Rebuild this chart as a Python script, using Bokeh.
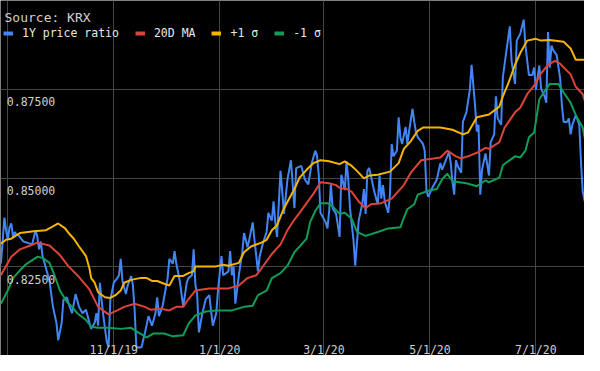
import pandas as pd
from bokeh.plotting import figure
from bokeh.models import FixedTicker, Label, Legend, LegendItem
from bokeh.core.properties import value
from bokeh.embed import file_html
from bokeh.resources import INLINE

# ---------------- data ----------------
BASE = "2019-08-28"
X_START = "2019-08-27 19:00"
X_END = "2020-07-29 00:00"

series_names = ["1Y price ratio", "20D MA", "+1 \u03c3", "-1 \u03c3"]
series_colors = ["#4285F4", "#DB4437", "#F4B400", "#0F9D58"]

# 1Y price ratio (days after BASE, value)
price_day = [0, 1, 2, 3, 4, 5, 6, 7, 8, 9, 10, 13, 15, 18, 20, 21, 22, 23, 24, 26,
             28, 30, 32, 33, 35, 36, 38, 39, 41, 43, 45, 47, 49, 51, 52, 54, 55, 56, 57, 58,
             59, 61, 62, 63, 65, 67, 68, 69, 70, 71, 72, 73, 75, 76, 77, 78, 80, 81, 83, 85,
             87, 89, 90, 91, 93, 94, 96, 97, 99, 100, 101, 103, 105, 107, 108, 110, 111, 112, 113, 114,
             116, 118, 120, 122, 124, 125, 127, 128, 131, 132, 133, 134, 135, 137, 139, 140, 142, 143, 145, 146,
             148, 149, 151, 153, 154, 156, 157, 158, 159, 161, 162, 163, 165, 167, 169, 170, 173, 175, 177, 179,
             181, 182, 183, 184, 187, 188, 189, 190, 191, 193, 195, 196, 198, 199, 200, 201, 203, 204, 206, 208,
             209, 210, 211, 212, 213, 215, 217, 218, 219, 220, 221, 223, 224, 225, 226, 228, 229, 230, 231, 233,
             234, 235, 237, 238, 239, 240, 243, 244, 245, 246, 248, 251, 253, 254, 257, 258, 259, 260, 261, 262,
             263, 265, 266, 268, 270, 271, 273, 274, 275, 276, 277, 279, 281, 282, 284, 285, 286, 288, 289, 291,
             293, 294, 296, 297, 299, 301, 302, 304, 306, 307, 308, 310, 311, 313, 314, 315, 316, 317, 318, 320,
             322, 323, 324, 326, 327, 328, 329, 331, 333, 334, 335, 337]
price_val = [0.8259, 0.8318, 0.8388, 0.8353, 0.8326, 0.8361, 0.8372, 0.8334, 0.8348, 0.8340,
             0.8340, 0.8321, 0.8318, 0.8313, 0.8353, 0.8334, 0.8299, 0.8321, 0.8280, 0.8245,
             0.8210, 0.8137, 0.8092, 0.8043, 0.8092, 0.8156, 0.8164, 0.8146, 0.8119, 0.8173,
             0.8137, 0.8119, 0.8129, 0.8092, 0.8075, 0.8092, 0.8119, 0.8084, 0.8205, 0.8156,
             0.8111, 0.8038, 0.8024, 0.8156, 0.8205, 0.8218, 0.8226, 0.8272, 0.8210, 0.8191,
             0.8173, 0.8197, 0.8224, 0.8199, 0.8129, 0.8024, 0.8022, 0.8024, 0.8065, 0.8111,
             0.8084, 0.8119, 0.8164, 0.8111, 0.8137, 0.8164, 0.8218, 0.8272, 0.8259, 0.8294,
             0.8259, 0.8210, 0.8137, 0.8205, 0.8218, 0.8226, 0.8299, 0.8199, 0.8173, 0.8065,
             0.8119, 0.8159, 0.8170, 0.8084, 0.8119, 0.8183, 0.8280, 0.8226, 0.8237, 0.8294,
             0.8226, 0.8251, 0.8146, 0.8226, 0.8291, 0.8345, 0.8305, 0.8326, 0.8375, 0.8326,
             0.8237, 0.8280, 0.8318, 0.8348, 0.8402, 0.8380, 0.8434, 0.8375, 0.8334, 0.8520,
             0.8461, 0.8399, 0.8496, 0.8550, 0.8415, 0.8528, 0.8534, 0.8496, 0.8482, 0.8542,
             0.8577, 0.8563, 0.8509, 0.8402, 0.8375, 0.8358, 0.8407, 0.8482, 0.8415, 0.8399,
             0.8334, 0.8509, 0.8466, 0.8547, 0.8496, 0.8415, 0.8326, 0.8253, 0.8380, 0.8426,
             0.8469, 0.8399, 0.8520, 0.8528, 0.8507, 0.8461, 0.8426, 0.8507, 0.8442, 0.8480,
             0.8434, 0.8402, 0.8453, 0.8596, 0.8561, 0.8577, 0.8671, 0.8615, 0.8596, 0.8644,
             0.8596, 0.8631, 0.8695, 0.8658, 0.8628, 0.8615, 0.8596, 0.8577, 0.8466, 0.8447,
             0.8469, 0.8496, 0.8542, 0.8523, 0.8561, 0.8574, 0.8542, 0.8488, 0.8453, 0.8550,
             0.8534, 0.8515, 0.8658, 0.8685, 0.8749, 0.8819, 0.8704, 0.8631, 0.8650, 0.8453,
             0.8523, 0.8569, 0.8507, 0.8601, 0.8623, 0.8730, 0.8668, 0.8650, 0.8784, 0.8857,
             0.8927, 0.8830, 0.8765, 0.8887, 0.8906, 0.8946, 0.8873, 0.8790, 0.8790, 0.8811,
             0.8749, 0.8817, 0.8752, 0.8730, 0.8712, 0.8911, 0.8811, 0.8873, 0.8860, 0.8846,
             0.8779, 0.8704, 0.8658, 0.8658, 0.8668, 0.8623, 0.8650, 0.8677, 0.8650, 0.8542,
             0.8461, 0.8415]

# 20D MA
ma_day = [0, 6, 11, 17, 21, 28, 34, 39, 45, 51, 56, 62, 67, 71, 77, 83, 86, 92, 97, 101,
          105, 108, 112, 120, 131, 137, 142, 147, 150, 156, 161, 165, 169, 172, 176, 180, 184, 189, 193, 196,
          198, 202, 206, 210, 213, 219, 225, 232, 236, 242, 249, 253, 257, 262, 265, 270, 274, 279, 281, 287,
          290, 296, 299, 303, 307, 311, 315, 319, 322, 328, 331, 335, 337]
ma_val = [0.8226, 0.8278, 0.8299, 0.8310, 0.8318, 0.8310, 0.8283, 0.8251, 0.8221, 0.8186,
          0.8137, 0.8116, 0.8127, 0.8137, 0.8146, 0.8137, 0.8129, 0.8132, 0.8127, 0.8137,
          0.8137, 0.8159, 0.8183, 0.8189, 0.8189, 0.8197, 0.8218, 0.8226, 0.8245, 0.8286,
          0.8313, 0.8353, 0.8383, 0.8402, 0.8429, 0.8456, 0.8488, 0.8485, 0.8480, 0.8469,
          0.8472, 0.8461, 0.8434, 0.8415, 0.8426, 0.8429, 0.8442, 0.8480, 0.8515, 0.8550,
          0.8555, 0.8558, 0.8577, 0.8561, 0.8555, 0.8563, 0.8571, 0.8585, 0.8582, 0.8601,
          0.8642, 0.8685, 0.8698, 0.8736, 0.8760, 0.8795, 0.8819, 0.8830, 0.8822, 0.8792,
          0.8757, 0.8736, 0.8704]

# +1 sigma
up_day = [0, 3, 6, 10, 11, 19, 26, 30, 33, 37, 39, 42, 45, 49, 51, 52, 54, 56, 60, 63,
          66, 69, 71, 75, 80, 84, 87, 90, 94, 97, 100, 105, 108, 111, 112, 118, 124, 128, 131, 137,
          140, 144, 150, 153, 156, 159, 163, 169, 172, 176, 180, 184, 189, 195, 198, 202, 205, 209, 212, 217,
          224, 229, 232, 236, 240, 243, 253, 260, 266, 269, 274, 281, 287, 289, 292, 296, 299, 303, 308, 311,
          316, 324, 328, 331, 337]
up_val = [0.8315, 0.8326, 0.8329, 0.8342, 0.8345, 0.8350, 0.8353, 0.8364, 0.8372, 0.8358,
          0.8345, 0.8329, 0.8307, 0.8280, 0.8245, 0.8218, 0.8205, 0.8178, 0.8164, 0.8162,
          0.8170, 0.8183, 0.8205, 0.8213, 0.8218, 0.8218, 0.8210, 0.8210, 0.8202, 0.8197,
          0.8224, 0.8224, 0.8232, 0.8237, 0.8251, 0.8251, 0.8251, 0.8256, 0.8253, 0.8261,
          0.8291, 0.8307, 0.8318, 0.8326, 0.8353, 0.8367, 0.8415, 0.8469, 0.8501, 0.8523,
          0.8542, 0.8550, 0.8547, 0.8539, 0.8547, 0.8534, 0.8520, 0.8499, 0.8507, 0.8509,
          0.8518, 0.8542, 0.8582, 0.8604, 0.8633, 0.8642, 0.8642, 0.8636, 0.8623, 0.8628,
          0.8671, 0.8679, 0.8701, 0.8730, 0.8765, 0.8819, 0.8852, 0.8887, 0.8892, 0.8887,
          0.8889, 0.8884, 0.8865, 0.8833, 0.8833]

# -1 sigma
dn_day = [0, 4, 7, 11, 15, 21, 24, 28, 31, 34, 38, 41, 44, 49, 52, 56, 62, 69, 75, 79,
          84, 88, 94, 99, 105, 108, 112, 118, 124, 133, 140, 145, 148, 153, 156, 161, 165, 169, 172, 176,
          178, 181, 184, 188, 191, 195, 198, 202, 205, 210, 217, 223, 230, 232, 234, 238, 240, 246, 251, 254,
          257, 260, 268, 274, 279, 281, 287, 289, 292, 296, 299, 302, 304, 307, 310, 313, 316, 321, 324, 328,
          331, 335, 337]
dn_val = [0.8146, 0.8183, 0.8218, 0.8240, 0.8259, 0.8278, 0.8275, 0.8261, 0.8224, 0.8183,
          0.8151, 0.8137, 0.8119, 0.8100, 0.8081, 0.8078, 0.8078, 0.8075, 0.8078, 0.8065,
          0.8051, 0.8062, 0.8062, 0.8054, 0.8057, 0.8089, 0.8113, 0.8124, 0.8127, 0.8127,
          0.8137, 0.8140, 0.8170, 0.8183, 0.8218, 0.8232, 0.8253, 0.8291, 0.8307, 0.8329,
          0.8375, 0.8407, 0.8429, 0.8429, 0.8420, 0.8399, 0.8402, 0.8385, 0.8348, 0.8337,
          0.8348, 0.8358, 0.8361, 0.8388, 0.8412, 0.8426, 0.8453, 0.8464, 0.8469, 0.8496,
          0.8512, 0.8491, 0.8485, 0.8477, 0.8493, 0.8488, 0.8501, 0.8536, 0.8547, 0.8561,
          0.8558, 0.8577, 0.8615, 0.8628, 0.8722, 0.8744, 0.8765, 0.8765, 0.8741, 0.8712,
          0.8677, 0.8642, 0.8590]

y_ticks = [0.825, 0.85, 0.875]
y_grid = [0.825, 0.85, 0.875, 0.9]
x_ticks = ["2019-11-01", "2020-01-01", "2020-03-01", "2020-05-01", "2020-07-01"]
x_grid = ["2019-09-01"] + x_ticks
source_text = "Source: KRX"

# ---------------- styling ----------------
FONT = "DejaVu Sans Mono"
W, H = 584, 355
BG = "#000000"
GRID = "#454545"


def to_dates(days):
    return pd.Timestamp(BASE) + pd.to_timedelta(days, unit="D")


def ms(d):
    return pd.Timestamp(d).value / 1e6


p = figure(width=W, height=H, x_axis_type="datetime",
           x_range=(pd.Timestamp(X_START), pd.Timestamp(X_END)), y_range=(0.8, 0.9),
           background_fill_color=BG, border_fill_color=BG, outline_line_color=None,
           min_border=0, toolbar_location=None, output_backend="svg")

p.xaxis.visible = False
p.yaxis.visible = False
p.xgrid.ticker = FixedTicker(ticks=[ms(d) for d in x_grid])
p.ygrid.ticker = FixedTicker(ticks=y_grid)
for g in (p.xgrid, p.ygrid):
    g.grid_line_color = GRID
    g.grid_line_width = 1

p.line(to_dates(price_day), price_val, line_color=series_colors[0], line_width=2)
p.line(to_dates(ma_day), ma_val, line_color=series_colors[1], line_width=2)
p.line(to_dates(up_day), up_val, line_color=series_colors[2], line_width=2)
p.line(to_dates(dn_day), dn_val, line_color=series_colors[3], line_width=2)

# tick labels drawn inside the frame
y_labels = [f"{v:.5f}" for v in y_ticks]
p.text(x=[pd.Timestamp(x_grid[0])] * len(y_ticks), y=y_ticks, text=y_labels,
       text_font=value(FONT), text_font_size="11.5px", text_color="#cfcfcf",
       text_align="left", text_baseline="alphabetic", x_offset=-1, y_offset=12.5)

x_dates = [pd.Timestamp(d) for d in x_ticks]
x_labels = [f"{d.month}/{d.day}/{d.year % 100}" for d in x_dates]
p.text(x=x_dates, y=[0.8] * len(x_dates), text=x_labels,
       text_font=value(FONT), text_font_size="11.5px", text_color="#cfcfcf",
       text_align="center", text_baseline="alphabetic", y_offset=-6)

p.add_layout(Label(x=4, y=H - 17, x_units="screen", y_units="screen", text=source_text,
                   text_font=FONT, text_font_size="13px", text_color="#d0d0d0",
                   text_baseline="alphabetic"))

# legend swatches: one-point (NaN) lines so nothing appears in the plot area
items = []
for name, color in zip(series_names, series_colors):
    r = p.line(x=[pd.Timestamp(BASE)], y=[float("nan")], line_color=color, line_width=4)
    items.append(LegendItem(label=name, renderers=[r]))

legend = Legend(items=items, orientation="horizontal", location=(3, H - 41),
                padding=0, margin=0, spacing=16, label_standoff=9,
                glyph_width=10, glyph_height=16, label_height=16,
                label_text_font=FONT, label_text_font_size="11.5px",
                label_text_color="#e8e8e8", background_fill_alpha=0,
                border_line_alpha=0)
p.add_layout(legend)

open("out.html", "w").write(file_html(p, INLINE))
